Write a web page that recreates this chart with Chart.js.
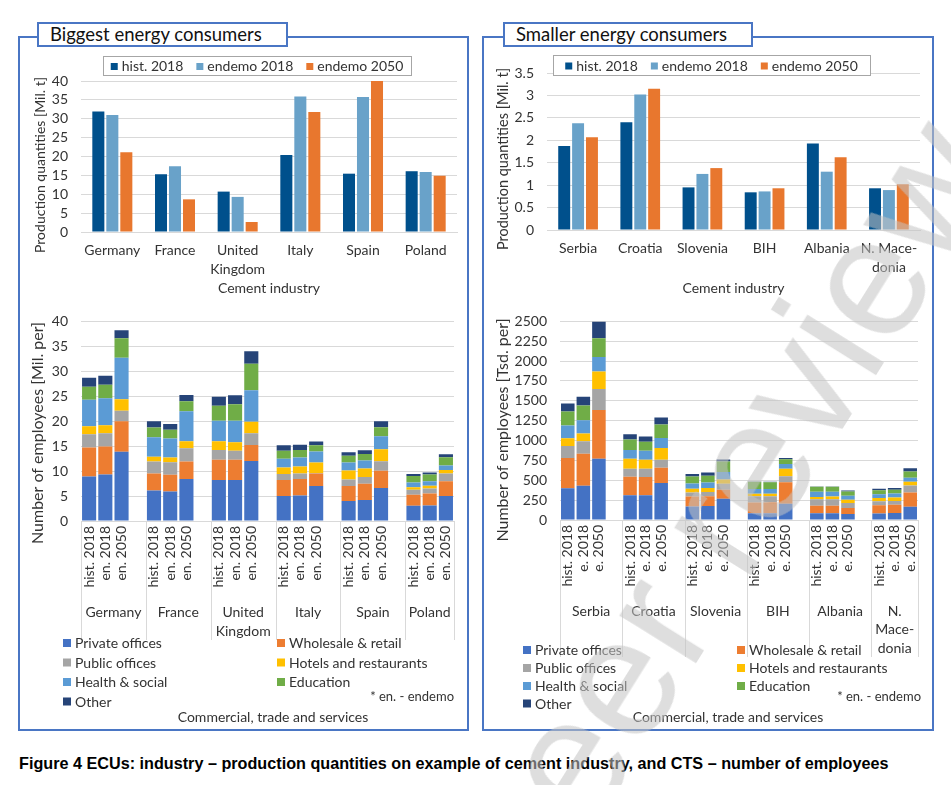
<!DOCTYPE html>
<html>
<head>
<meta charset="utf-8">
<script src="https://cdn.jsdelivr.net/npm/chart.js@4.4.1/dist/chart.umd.min.js"></script>
<style>
  body { margin: 0; background: #fff; }
  #page { position: relative; width: 951px; height: 785px; overflow: hidden; font-family: Lato, "Open Sans", sans-serif; }
  .panel { position: absolute; border: 2px solid #4A76C4; box-sizing: border-box; }
  .tab { position: absolute; border: 2px solid #4A76C4; box-sizing: border-box; background: #fff;
         font-size: 18.5px; line-height: 21px; padding-left: 11px; color: #111; }
  canvas { position: absolute; }
  .caption { position: absolute; left: 19px; top: 754px; font: bold 16.2px "Liberation Sans", Arial, sans-serif; color: #000; white-space: nowrap; }
  .wm { position: absolute; left: 538px; top: 781px; transform-origin: 0 154px; transform: rotate(-58deg);
        font: 170px "Liberation Sans", Arial, sans-serif; line-height: 1; color: rgba(195, 195, 195, 0.55);
        white-space: nowrap; pointer-events: none; }
</style>
</head>
<body>
<div id="page">
  <div class="panel" style="left:18px;top:36px;width:451px;height:695px"></div>
  <div class="panel" style="left:482px;top:36px;width:452px;height:695px"></div>

  <canvas id="cementBig" width="450" height="256" style="left:18px;top:44px"></canvas>
  <canvas id="cementSmall" width="451" height="256" style="left:482px;top:44px"></canvas>
  <canvas id="ctsBig" width="450" height="430" style="left:18px;top:300px"></canvas>
  <canvas id="ctsSmall" width="451" height="430" style="left:482px;top:300px"></canvas>

  <div class="tab" style="left:37px;top:22px;width:251px;height:25px">Biggest energy consumers</div>
  <div class="tab" style="left:503px;top:22px;width:250px;height:25px">Smaller energy consumers</div>

  <div class="caption">Figure 4 ECUs: industry – production quantities on example of cement industry, and CTS – number of employees</div>
  <div class="wm">Peer review</div>
</div>

<script>
// cement industry, production quantities
const countriesBig = ["Germany", "France", ["United", "Kingdom"], "Italy", "Spain", "Poland"];
const cementHistBig = [31.9, 15.3, 10.7, 20.4, 15.45, 16.1];
const cementE2018Big = [31.0, 17.4, 9.3, 35.9, 35.75, 15.9];
const cementE2050Big = [21.1, 8.65, 2.65, 31.8, 40.2, 14.9];

const countriesSmall = ["Serbia", "Croatia", "Slovenia", "BIH", "Albania", ["N. Mace-", "donia"]];
const cementHistSmall = [1.87, 2.40, 0.95, 0.84, 1.93, 0.93];
const cementE2018Small = [2.38, 3.02, 1.25, 0.86, 1.30, 0.89];
const cementE2050Small = [2.07, 3.15, 1.38, 0.93, 1.62, 1.02];

// CTS employees, order per country: hist. 2018, endemo 2018, endemo 2050
const ctsGroupsBig = ["Germany", "France", ["United", "Kingdom"], "Italy", "Spain", "Poland"];
const barLabelsBig = ["hist. 2018", "en. 2018", "en. 2050"];
const privateBig   = [8.9, 9.3, 13.9, 6.1, 5.9, 8.4, 8.2, 8.2, 12.0, 5.0, 5.1, 7.0, 4.0, 4.2, 6.6, 3.05, 3.1, 5.0];
const wholesaleBig = [5.85, 5.65, 6.1, 3.4, 3.35, 3.5, 4.05, 4.05, 3.25, 3.2, 3.3, 2.5, 3.0, 3.25, 3.45, 2.2, 2.4, 2.95];
const publicBig    = [2.65, 2.65, 2.1, 2.4, 2.5, 2.7, 2.0, 1.85, 2.35, 1.2, 1.1, 0.1, 1.3, 1.35, 1.9, 1.0, 1.0, 1.55];
const hotelsBig    = [1.6, 1.6, 2.3, 1.0, 1.0, 1.4, 1.75, 1.7, 2.3, 1.3, 1.4, 2.1, 1.8, 1.7, 2.45, 0.5, 0.55, 0.7];
const healthBig    = [5.3, 5.4, 8.3, 3.9, 3.8, 6.0, 4.1, 4.3, 6.3, 1.8, 1.85, 2.25, 1.6, 1.6, 2.6, 0.95, 0.9, 0.9];
const educationBig = [2.6, 2.7, 3.9, 1.95, 1.75, 2.0, 3.0, 3.3, 5.3, 1.6, 1.5, 1.25, 1.4, 1.35, 1.8, 1.3, 1.35, 1.7];
const otherBig     = [1.8, 1.8, 1.65, 1.25, 1.15, 1.25, 1.8, 1.8, 2.5, 1.1, 1.05, 0.75, 0.7, 0.75, 1.2, 0.4, 0.4, 0.6];

const ctsGroupsSmall = ["Serbia", "Croatia", "Slovenia", "BIH", "Albania", ["N.", "Mace-", "donia"]];
const barLabelsSmall = ["hist. 2018", "e. 2018", "e. 2050"];
const privateSmall   = [400, 430, 770, 312, 312, 467, 170, 175, 268, 85, 85, 205, 85, 85, 75, 81, 89, 166];
const wholesaleSmall = [380, 405, 615, 232, 228, 190, 126, 125, 113, 135, 135, 270, 95, 95, 75, 106, 102, 179];
const publicSmall    = [150, 155, 265, 100, 105, 102, 49, 53, 74, 80, 80, 75, 80, 80, 65, 48, 49, 89];
const hotelsSmall    = [100, 100, 220, 126, 114, 146, 49, 49, 56, 30, 30, 95, 30, 35, 40, 41, 44, 49];
const healthSmall    = [160, 165, 183, 110, 114, 126, 65, 69, 94, 60, 60, 60, 65, 60, 50, 49, 49, 49];
const educationSmall = [175, 185, 235, 134, 113, 170, 89, 85, 130, 90, 85, 60, 65, 65, 55, 48, 48, 77];
const otherSmall     = [100, 110, 210, 65, 65, 90, 32, 41, 28, 5, 5, 15, 3, 3, 10, 21, 21, 44];

const sectorNames = ["Private offices", "Wholesale & retail", "Public offices", "Hotels and restaurants",
                     "Health & social", "Education", "Other"];
const sectorColors = ["#4472C4", "#ED7D31", "#A5A5A5", "#FFC000", "#5B9BD5", "#70AD47", "#264478"];

const GRID = "#D9D9D9";
const TXT = "#333333";
const FONT = 'Lato, "Open Sans", sans-serif';
Chart.defaults.font.family = FONT;
Chart.defaults.color = TXT;

// vertical axis title, placed by hand so it sits where the original has it
function sideTitle(text, size, cx, cy) {
  return {
    id: "sideTitle",
    afterDraw(chart) {
      const ctx = chart.ctx;
      ctx.save();
      ctx.translate(cx, cy);
      ctx.rotate(-Math.PI / 2);
      ctx.font = size + "px " + FONT;
      ctx.fillStyle = TXT;
      ctx.textAlign = "center";
      ctx.textBaseline = "middle";
      ctx.fillText(text, 0, 0);
      ctx.restore();
    }
  };
}

// legend in a grey frame above the cement charts
function framedLegend(box) {
  return {
    id: "framedLegend",
    afterDraw(chart) {
      const ctx = chart.ctx;
      ctx.save();
      ctx.fillStyle = "#fff";
      ctx.fillRect(box.x, box.y, box.w, box.h);
      ctx.strokeStyle = "#A6A6A6";
      ctx.lineWidth = 1;
      ctx.strokeRect(box.x + 0.5, box.y + 0.5, box.w, box.h);
      ctx.font = "14px " + FONT;
      ctx.textBaseline = "middle";
      const mk = 7, gap = 4, sp = 13;
      const items = chart.data.datasets;
      let total = sp * (items.length - 1);
      items.forEach(d => { total += mk + gap + ctx.measureText(d.label).width; });
      let x = box.x + (box.w - total) / 2;
      const cy = box.y + box.h / 2 + 1;
      items.forEach(d => {
        ctx.fillStyle = d.backgroundColor;
        ctx.fillRect(x, cy - mk / 2, mk, mk);
        x += mk + gap;
        ctx.fillStyle = TXT;
        ctx.fillText(d.label, x, cy);
        x += ctx.measureText(d.label).width + sp;
      });
      ctx.restore();
    }
  };
}

function cementChart(id, labels, hist, e18, e50, yMax, yStep, geo) {
  return new Chart(document.getElementById(id), {
    type: "bar",
    data: {
      labels: labels,
      datasets: [
        { label: "hist. 2018", data: hist, backgroundColor: "#00508C" },
        { label: "endemo 2018", data: e18, backgroundColor: "#69A2C9" },
        { label: "endemo 2050", data: e50, backgroundColor: "#E8772E" }
      ]
    },
    options: {
      responsive: false,
      animation: false,
      layout: { padding: { top: geo.top, right: geo.right, left: 0, bottom: 0 } },
      datasets: { bar: { categoryPercentage: 0.67, barPercentage: 0.86 } },
      plugins: { legend: { display: false }, tooltip: { enabled: false } },
      scales: {
        x: {
          grid: { display: false, drawTicks: false },
          border: { color: GRID },
          ticks: { padding: 9, autoSkip: false, maxRotation: 0, font: { size: 14, lineHeight: 1.35 } },
          title: { display: true, text: "Cement industry", font: { size: 14 }, padding: { top: 0, bottom: 3 } },
          afterFit: s => { s.height = geo.xH; }
        },
        y: {
          min: 0, max: yMax,
          grid: { color: GRID, drawTicks: false },
          border: { display: false },
          ticks: { stepSize: yStep, padding: 13, autoSkip: false, font: { size: 14 },
                   callback: v => String(Math.round(v * 100) / 100) },
          afterFit: s => { s.width = geo.yW; }
        }
      }
    },
    plugins: [framedLegend(geo.legend), sideTitle("Production quantities [Mil. t]", geo.ts, geo.tx, geo.ty)]
  });
}

// bars of one country side by side, one empty slot between countries
function toSlots(values, n) {
  const out = [];
  for (let k = 0; k < n; k++) {
    out.push(values[3 * k], values[3 * k + 1], values[3 * k + 2]);
    if (k < n - 1) out.push(null);
  }
  return out;
}

function ctsExtras(groups, geo) {
  return {
    id: "ctsExtras",
    afterDraw(chart) {
      const ctx = chart.ctx;
      const xs = chart.scales.x;
      const area = chart.chartArea;
      const slotW = (area.right - area.left) / chart.data.labels.length;
      const edges = groups.map((g, k) => xs.getPixelForValue(4 * k) - slotW / 2);
      edges.push(area.right);
      ctx.save();
      ctx.strokeStyle = GRID;
      ctx.lineWidth = 1;
      edges.forEach(x => {
        const px = Math.round(x) + 0.5;
        ctx.beginPath();
        ctx.moveTo(px, area.bottom);
        ctx.lineTo(px, area.bottom + geo.sepLen);
        ctx.stroke();
      });
      ctx.fillStyle = TXT;
      ctx.font = "14px " + FONT;
      ctx.textAlign = "center";
      ctx.textBaseline = "middle";
      groups.forEach((g, k) => {
        const cx = (edges[k] + edges[k + 1]) / 2;
        const lines = Array.isArray(g) ? g : [g];
        lines.forEach((t, i) => ctx.fillText(t, cx, area.bottom + geo.groupY + i * geo.groupLH));
      });
      // legend in two columns
      ctx.textAlign = "left";
      chart.data.datasets.forEach((d, i) => {
        const col = i % 2, row = Math.floor(i / 2);
        const x = geo.legCols[col], y = geo.legRows[row];
        ctx.fillStyle = d.backgroundColor;
        ctx.fillRect(x, y - 4, 8, 8);
        ctx.fillStyle = TXT;
        ctx.fillText(d.label, x + 12, y + 0.5);
      });
      ctx.font = "13px " + FONT;
      ctx.textAlign = "right";
      ctx.fillText("* en. - endemo", geo.note[0], geo.note[1]);
      ctx.font = "14px " + FONT;
      ctx.textAlign = "center";
      ctx.fillText("Commercial, trade and services", geo.title[0], geo.title[1]);
      ctx.restore();
    }
  };
}

function ctsChart(id, groups, barLabels, series, yMax, yStep, yTitle, geo) {
  const n = groups.length;
  const labels = toSlots(groups.flatMap(() => barLabels), n).map(v => v === null ? "" : v);
  return new Chart(document.getElementById(id), {
    type: "bar",
    data: {
      labels: labels,
      datasets: series.map((vals, i) => ({
        label: sectorNames[i],
        data: toSlots(vals, n),
        backgroundColor: sectorColors[i]
      }))
    },
    options: {
      responsive: false,
      animation: false,
      layout: { padding: { top: geo.top, right: geo.right, left: 0, bottom: 0 } },
      datasets: { bar: { categoryPercentage: 1.0, barPercentage: 0.87 } },
      plugins: { legend: { display: false }, tooltip: { enabled: false } },
      scales: {
        x: {
          stacked: true,
          grid: { display: false, drawTicks: false },
          border: { color: GRID },
          ticks: { padding: 5, autoSkip: false, minRotation: 90, maxRotation: 90, font: { size: 14 } },
          afterFit: s => { s.height = geo.xH; }
        },
        y: {
          stacked: true,
          min: 0, max: yMax,
          grid: { color: GRID, drawTicks: false },
          border: { display: false },
          ticks: { stepSize: yStep, padding: 13, autoSkip: false, font: { size: 14 }, callback: v => String(v) },
          afterFit: s => { s.width = geo.yW; }
        }
      }
    },
    plugins: [ctsExtras(groups, geo), sideTitle(yTitle, 16, geo.tx, geo.ty)]
  });
}

cementChart("cementBig", countriesBig, cementHistBig, cementE2018Big, cementE2050Big, 40, 5, {
  top: 37, right: 11, yW: 63, xH: 68, ts: 14, tx: 22, ty: 121, legend: { x: 85, y: 12, w: 308, h: 19 }
});
cementChart("cementSmall", countriesSmall, cementHistSmall, cementE2018Small, cementE2050Small, 3.5, 0.5, {
  top: 29, right: 13, yW: 65, xH: 70, ts: 14.5, tx: 21, ty: 115, legend: { x: 71, y: 11, w: 317, h: 20 }
});

ctsChart("ctsBig", ctsGroupsBig, barLabelsBig,
  [privateBig, wholesaleBig, publicBig, hotelsBig, healthBig, educationBig, otherBig],
  40, 5, "Number of employees [Mil. per]", {
    top: 9, right: 13, yW: 63, xH: 209, tx: 20, ty: 133,
    sepLen: 119, groupY: 91, groupLH: 19,
    legCols: [45, 259], legRows: [343, 362.5, 382, 401.5],
    note: [436, 397], title: [255, 417]
  });
ctsChart("ctsSmall", ctsGroupsSmall, barLabelsSmall,
  [privateSmall, wholesaleSmall, publicSmall, hotelsSmall, healthSmall, educationSmall, otherSmall],
  2500, 250, "Number of employees [Tsd. per]", {
    top: 14, right: 15, yW: 78, xH: 210, tx: 21, ty: 130,
    sepLen: 137, groupY: 91, groupLH: 18.5,
    legCols: [41, 255], legRows: [350, 368, 386, 403.5],
    note: [439, 397], title: [246, 417]
  });
</script>
</body>
</html>
